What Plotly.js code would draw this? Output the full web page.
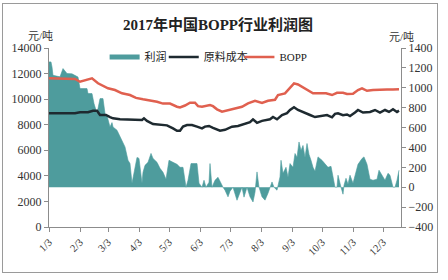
<!DOCTYPE html>
<html>
<head>
<meta charset="utf-8">
<script src="https://cdn.plot.ly/plotly-3.0.1.min.js"></script>
<style>
html,body{margin:0;padding:0;background:#fff;}
#wrap{position:relative;width:448px;height:280px;}
#chart{width:448px;height:280px;}
#frame{position:absolute;left:2px;top:3px;width:434px;height:268px;border:1px solid #9a9a9a;pointer-events:none;}
</style>
</head>
<body>
<div id="wrap"><div id="chart"></div><div id="frame"></div></div>
<script>
// BOPP price (元/吨, left axis)
var boppDates = ['2017-01-03','2017-01-14','2017-01-29','2017-02-03','2017-02-08','2017-02-15','2017-02-21','2017-03-03','2017-03-10','2017-03-17','2017-03-25','2017-03-31','2017-04-07','2017-04-14','2017-04-21','2017-04-27','2017-05-04','2017-05-11','2017-05-14','2017-05-19','2017-05-24','2017-05-29','2017-06-01','2017-06-05','2017-06-09','2017-06-13','2017-06-16','2017-06-20','2017-06-25','2017-07-01','2017-07-08','2017-07-15','2017-07-21','2017-07-28','2017-08-04','2017-08-10','2017-08-17','2017-08-20','2017-08-27','2017-08-30','2017-09-05','2017-09-09','2017-09-14','2017-09-19','2017-09-24','2017-10-01','2017-10-07','2017-10-13','2017-10-18','2017-10-24','2017-10-28','2017-11-03','2017-11-08','2017-11-12','2017-11-17','2017-11-23','2017-11-30','2017-12-07','2017-12-13','2017-12-19'];
var boppValues = [11630,11600,11580,11360,11450,11630,11240,10850,10713,10455,10322,10100,9985,9900,9800,9650,9650,9410,9350,9500,9720,9720,9450,9400,9450,9540,9450,9204,9016,9150,9280,9407,9673,9877,9700,9877,9950,10322,10450,10713,11237,11150,10900,10700,10455,10455,10455,10322,10500,10500,10400,10420,10713,10846,10650,10713,10760,10760,10760,10768];

// Raw material cost (元/吨, left axis)
var costDates = ['2017-01-03','2017-01-29','2017-02-03','2017-02-11','2017-02-16','2017-02-20','2017-02-23','2017-03-01','2017-03-05','2017-03-08','2017-03-15','2017-03-25','2017-04-01','2017-04-06','2017-04-08','2017-04-11','2017-04-17','2017-04-24','2017-05-01','2017-05-07','2017-05-11','2017-05-14','2017-05-17','2017-05-21','2017-05-26','2017-05-31','2017-06-05','2017-06-08','2017-06-12','2017-06-16','2017-06-20','2017-06-23','2017-06-28','2017-07-05','2017-07-11','2017-07-18','2017-07-23','2017-07-26','2017-07-30','2017-08-04','2017-08-09','2017-08-12','2017-08-15','2017-08-19','2017-08-24','2017-08-29','2017-09-01','2017-09-05','2017-09-09','2017-09-13','2017-09-16','2017-09-21','2017-09-26','2017-10-01','2017-10-08','2017-10-13','2017-10-16','2017-10-19','2017-10-24','2017-10-28','2017-10-31','2017-11-05','2017-11-08','2017-11-13','2017-11-20','2017-11-25','2017-11-30','2017-12-05','2017-12-09','2017-12-13','2017-12-17','2017-12-19'];
var costValues = [8890,8890,8970,8970,9095,9095,8760,8760,8600,8500,8420,8420,8390,8367,8500,8300,8055,8000,7950,7715,7530,7530,7850,7976,7976,7850,7715,7850,7900,7750,7637,7530,7600,7845,7900,8055,8200,8420,8150,8300,8367,8420,8600,8420,8758,8900,9150,9360,9150,9000,8900,8758,8600,8650,8750,8578,8850,8900,8750,8800,8680,8950,9150,8950,9000,9150,8950,9150,9000,9204,9000,9100];

// Profit (元/吨, right axis)
var profitDates = ['2017-01-03','2017-01-05','2017-01-06','2017-01-07','2017-01-14','2017-01-17','2017-01-21','2017-01-26','2017-02-01','2017-02-03','2017-02-10','2017-02-11','2017-02-15','2017-02-17','2017-02-20','2017-02-23','2017-02-26','2017-02-28','2017-03-02','2017-03-05','2017-03-07','2017-03-08','2017-03-12','2017-03-17','2017-03-20','2017-03-23','2017-03-25','2017-03-27','2017-03-29','2017-04-01','2017-04-03','2017-04-06','2017-04-07','2017-04-09','2017-04-12','2017-04-15','2017-04-17','2017-04-21','2017-04-24','2017-04-27','2017-04-30','2017-05-03','2017-05-07','2017-05-11','2017-05-14','2017-05-17','2017-05-20','2017-05-22','2017-05-25','2017-05-31','2017-06-02','2017-06-05','2017-06-07','2017-06-09','2017-06-12','2017-06-13','2017-06-15','2017-06-18','2017-06-21','2017-06-24','2017-06-26','2017-06-28','2017-07-01','2017-07-03','2017-07-06','2017-07-10','2017-07-13','2017-07-15','2017-07-17','2017-07-20','2017-07-23','2017-07-26','2017-07-28','2017-07-30','2017-08-01','2017-08-04','2017-08-07','2017-08-10','2017-08-14','2017-08-16','2017-08-19','2017-08-22','2017-08-23','2017-08-25','2017-08-28','2017-08-30','2017-09-01','2017-09-04','2017-09-06','2017-09-08','2017-09-10','2017-09-12','2017-09-14','2017-09-16','2017-09-18','2017-09-20','2017-09-22','2017-09-24','2017-09-26','2017-09-29','2017-10-03','2017-10-06','2017-10-09','2017-10-12','2017-10-14','2017-10-16','2017-10-18','2017-10-19','2017-10-22','2017-10-24','2017-10-25','2017-10-27','2017-10-29','2017-10-31','2017-11-03','2017-11-06','2017-11-08','2017-11-12','2017-11-14','2017-11-17','2017-11-20','2017-11-23','2017-11-27','2017-11-29','2017-12-02','2017-12-05','2017-12-08','2017-12-10','2017-12-13','2017-12-15','2017-12-17','2017-12-19'];
var profitValues = [1260,1260,1209,1125,1110,1193,1143,1140,1108,992,992,942,942,841,741,891,891,741,720,606,650,606,573,472,405,271,238,40,150,300,290,40,150,220,250,340,290,250,190,150,80,271,250,230,200,200,0,70,238,238,40,0,70,0,50,238,0,70,100,30,0,-30,-97,-40,0,-131,-60,0,-100,0,-97,-148,-50,154,0,-97,-130,-60,53,0,-30,104,271,140,200,100,238,200,339,300,455,370,420,300,440,330,270,200,160,305,270,230,200,210,120,0,0,121,0,-70,20,90,30,121,40,170,230,288,305,230,80,70,80,171,120,70,140,120,0,0,70,171];

var seriesNames = ['利润','原料成本','BOPP'];
var teal = '#4e9c9d', black = '#1e2a30', red = '#e0604f';
var fontFam = "'Liberation Serif','Noto Sans CJK SC',serif";

var traces = [
  {x: profitDates, y: profitValues, type:'scatter', mode:'lines', fill:'tozeroy',
   line:{color:teal, width:0.6}, fillcolor:teal, yaxis:'y', showlegend:false, hoverinfo:'skip'},
  {x:[null], y:[null], type:'scatter', mode:'lines', name:seriesNames[0], line:{color:teal, width:5}, yaxis:'y', legend:'legend'},
  {x: costDates, y: costValues, type:'scatter', mode:'lines', name:seriesNames[1],
   line:{color:black, width:2.5}, yaxis:'y2', legend:'legend2'},
  {x: boppDates, y: boppValues, type:'scatter', mode:'lines', name:seriesNames[2],
   line:{color:red, width:2.5}, yaxis:'y2', legend:'legend3'}
];

var axCommon = {showgrid:false, zeroline:false, showline:true, linecolor:'#8c8c8c', linewidth:1,
  ticks:'outside', ticklen:4, tickcolor:'#8c8c8c', tickformat:'d', tickfont:{size:12, color:'#333', family:fontFam}};

function leg(x){
  return {orientation:'h', x:x, xanchor:'left', y:0.95, yanchor:'middle', borderwidth:0,
    font:{size:11, family:fontFam, color:'#222'}, bgcolor:'rgba(0,0,0,0)', itemwidth:30};
}

var layout = {
  width:448, height:280,
  margin:{l:49, r:47, t:48, b:53},
  paper_bgcolor:'#fff', plot_bgcolor:'#fff',
  font:{family:fontFam, color:'#333'},
  title:{text:'<b>2017年中国BOPP行业利润图</b>', font:{size:15, color:'#222', family:fontFam},
         x:0.48, xref:'paper', xanchor:'center', y:0.912, yref:'container', yanchor:'middle'},
  xaxis: Object.assign({}, axCommon, {type:'date', range:['2017-01-03','2017-12-21'],
    tick0:'2017-01-03', dtick:'M1', tickformat:'%-m/%-d', tickangle:-45,
    tickfont:{size:10.5, color:'#333', family:fontFam}}),
  yaxis: Object.assign({}, axCommon, {side:'right', range:[-400,1400], dtick:200}),
  yaxis2: Object.assign({}, axCommon, {side:'left', overlaying:'y', range:[0,14000], dtick:2000}),
  legend: leg(0.158),
  legend2: leg(0.326),
  legend3: leg(0.541),
  annotations:[
    {text:'元/吨', xref:'paper', yref:'paper', x:-0.065, y:1.112, showarrow:false, font:{size:11, color:'#333'}},
    {text:'元/吨', xref:'paper', yref:'paper', x:1.0426, y:1.106, showarrow:false, font:{size:11, color:'#333'}}
  ]
};

Plotly.newPlot('chart', traces, layout, {staticPlot:true, displayModeBar:false});
</script>
</body>
</html>
